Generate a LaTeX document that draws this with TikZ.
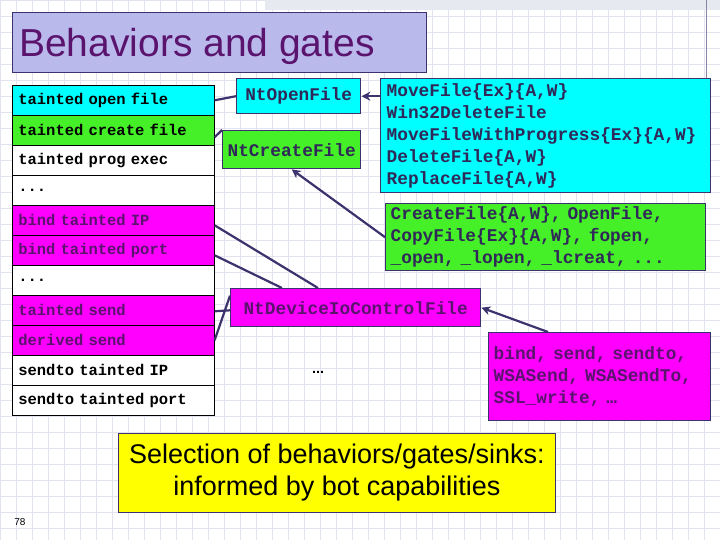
\documentclass[tikz,border=0pt]{standalone}
\usepackage{fontspec}
\setmainfont{Liberation Sans}
\newfontfamily\cour{Liberation Mono}
\usetikzlibrary{arrows.meta}
\definecolor{cy}{RGB}{0,255,255}
\definecolor{gr}{RGB}{70,240,40}
\definecolor{mg}{RGB}{255,0,255}
\definecolor{ed}{RGB}{60,50,110}
\definecolor{pt}{RGB}{90,20,110}
\definecolor{lav}{RGB}{185,185,235}
\definecolor{ye}{RGB}{255,255,0}
\definecolor{gridc}{RGB}{225,228,238}
\begin{document}
\begin{tikzpicture}[x=1pt,y=-1pt,
 row/.style={draw=black,line width=0.6pt,minimum width=198pt,minimum height=30pt,anchor=north west,inner sep=0pt,inner xsep=6pt,text width=190pt,font=\cour\bfseries\fontsize{15.5}{16}\selectfont},
 bx/.style={draw=ed,line width=1.4pt,anchor=north west,inner sep=0pt,font=\cour\bfseries\fontsize{17.8}{22}\selectfont},
 ln/.style={draw=ed,line width=2.2pt},
 ar/.style={ln,-{Stealth[length=9pt,width=9pt]}}]
\useasboundingbox (0,0) rectangle (720,540);
\fill[white] (0,0) rectangle (720,540);
\foreach \x in {0,16,...,720} \draw[gridc,line width=0.4pt] (\x,0) -- (\x,540);
\foreach \y in {0,16,...,540} \draw[gridc,line width=0.4pt] (0,\y) -- (720,\y);
\fill[gridc!80] (265,0) rectangle (720,10);
\draw[ed!60,line width=0.6pt] (706,0) -- (706,80);
\node[draw=ed,line width=0.8pt,fill=lav,anchor=north west,minimum width=414pt,minimum height=60pt,inner sep=0pt] (title) at (12,12) {};
\node[anchor=west,text=pt,font=\fontsize{39}{42}\selectfont,inner sep=0pt] (tt) at (19,46) {Behaviors and gates};
\node[row,fill=cy] (r1) at (12,85) {tainted open file};
\node[row,fill=gr] (r2) at (12,115) {tainted create file};
\node[row,fill=white] (r3) at (12,145) {tainted prog exec};
\node[row,fill=white] (r4) at (12,175) {...};
\node[row,fill=mg,text=pt] (r5) at (12,205) {bind tainted IP};
\node[row,fill=mg,text=pt] (r6) at (12,235) {bind tainted port};
\node[row,fill=white] (r7) at (12,265) {...};
\node[row,fill=mg,text=pt] (r8) at (12,295) {tainted send};
\node[row,fill=mg,text=pt] (r9) at (12,325) {derived send};
\node[row,fill=white] (r10) at (12,355) {sendto tainted IP};
\node[row,fill=white] (r11) at (12,385) {sendto tainted port};
\node[bx,fill=cy,minimum width=124pt,minimum height=35pt,text=ed!80!black] (nof) at (236,78) {NtOpenFile};
\node[bx,fill=gr,minimum width=138pt,minimum height=38pt,text=ed!80!black] (ncf) at (222,130) {NtCreateFile};
\node[bx,fill=cy,minimum width=330pt,minimum height=114pt,align=left,text=ed!80!black,inner xsep=6pt,text width=318pt] (mv) at (380,78) {MoveFile\{Ex\}\{A,W\}\\Win32DeleteFile\\MoveFileWithProgress\{Ex\}\{A,W\}\\DeleteFile\{A,W\}\\ReplaceFile\{A,W\}};
\node[bx,fill=gr,minimum width=320pt,minimum height=67pt,align=left,text=ed!80!black,inner xsep=5pt,text width=310pt] (cf) at (385,203) {CreateFile\{A,W\}, OpenFile,\\CopyFile\{Ex\}\{A,W\}, fopen,\\\_open, \_lopen, \_lcreat, ...};
\node[bx,fill=mg,minimum width=250pt,minimum height=38pt,text=pt] (nd) at (230,288) {NtDeviceIoControlFile};
\node[bx,fill=mg,minimum width=222pt,minimum height=88pt,align=left,text=pt,inner xsep=5pt,text width=212pt] (bs) at (488,332) {bind, send, sendto,\\WSASend, WSASendTo,\\SSL\_write, …};
\node[font=\bfseries\Large] (dots) at (318,372) {...};
\node[draw=ed,line width=0.8pt,fill=ye,anchor=north west,minimum width=437pt,minimum height=79pt,align=center,font=\fontsize{27}{32}\selectfont,inner sep=0pt] (sel) at (118,433) {Selection of behaviors/gates/sinks:\\informed by bot capabilities};
\node[font=\normalsize] (pg) at (20,522) {78};
\draw[ln] (r1.east) -- (nof.west);
\draw[ln] ([yshift=-7pt]r2.east) -- (ncf.north west);
\draw[ar] (mv.west|-nof.east) -- (nof.east);
\draw[ar] (cf.west) -- (ncf.south);
\draw[ln] ([yshift=-5pt]r5.east) -- ([xshift=88pt]nd.north west);
\draw[ln] ([yshift=-5pt]r6.east) -- ([xshift=52pt]nd.north west);
\draw[ln] ([yshift=-1pt]r8.east) -- (nd.west|-r8.east);
\draw[ln] ([yshift=0pt]r9.east) -- ([yshift=12pt]nd.west);
\draw[ar] ([xshift=60pt]bs.north west) -- (nd.east);
\end{tikzpicture}
\end{document}
